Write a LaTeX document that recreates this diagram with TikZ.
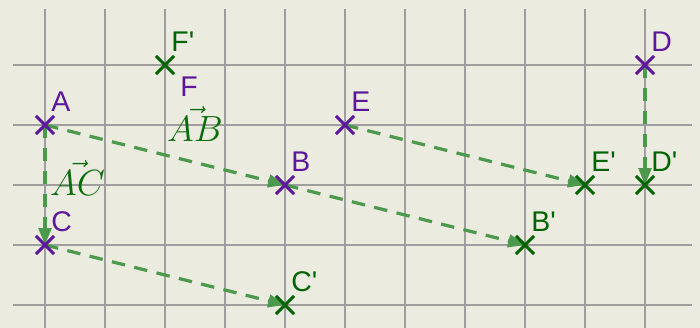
\documentclass[tikz,border=0pt]{standalone}
\usepackage{fontspec}
\setmainfont{Liberation Sans}
\usetikzlibrary{arrows.meta,shapes.misc}

\definecolor{bgcol}{RGB}{235,235,224}
\definecolor{gridcol}{RGB}{158,158,158}
\definecolor{ptpurple}{RGB}{94,22,156}
\definecolor{ptgreen}{RGB}{0,100,0}
\definecolor{vecgreen}{RGB}{76,152,76}

\begin{document}
\begin{tikzpicture}[
  gridline/.style={draw=gridcol,line width=0.9pt},
  ptmark/.style={cross out,draw,line width=1.5pt,minimum size=0.25cm,inner sep=0pt},
  ptlbl/.style={anchor=base west,inner sep=0pt,font=\fontsize{13.5}{16}\selectfont,xshift=0.1cm,yshift=0.22cm},
  veclbl/.style={anchor=base,inner sep=0pt,text=ptgreen!85!vecgreen,font=\fontsize{16}{18}\selectfont},
  vecarr/.style={draw=vecgreen,line width=1.5pt,dash pattern=on 6.4pt off 4.5pt,-{Triangle[length=8pt,width=6pt]}}
]
% ---- background and grid ----
\fill[bgcol] (-0.75,1.0833) rectangle (10.9167,-4.3833);
\useasboundingbox (-0.75,1.0833) rectangle (10.9167,-4.3833);
\foreach \i in {0,...,10}
  \draw[gridline] (\i,0.93) -- (\i,-4.3833);
\foreach \j in {0,...,4}
  \draw[gridline] (-0.533,-\j) -- (10.783,-\j);

% ---- points ----
\coordinate (A)  at (0,-1);
\coordinate (B)  at (4,-2);
\coordinate (C)  at (0,-3);
\coordinate (D)  at (10,0);
\coordinate (E)  at (5,-1);
\coordinate (F)  at (2,0);
\coordinate (B') at (8,-3);
\coordinate (C') at (4,-4);
\coordinate (D') at (10,-2);
\coordinate (E') at (9,-2);

% ---- translation vectors ----
\draw[vecarr] (A) -- (B);
\draw[vecarr] (A) -- (C);
\draw[vecarr] (B) -- (B');
\draw[vecarr] (C) -- (C');
\draw[vecarr] (E) -- (E');
\draw[vecarr] (D) -- (D');
\node[veclbl] (lAB) at (2.5,-1.283) {$\vec{AB}$};
\node[veclbl] (lAC) at (0.542,-2.183) {$\vec{AC}$};

% ---- marks ----
\node[ptmark,ptpurple] (mA) at (A) {};
\node[ptmark,ptpurple] (mB) at (B) {};
\node[ptmark,ptpurple] (mC) at (C) {};
\node[ptmark,ptpurple] (mD) at (D) {};
\node[ptmark,ptpurple] (mE) at (E) {};
\node[ptmark,ptgreen]  (mF) at (F) {};
\node[ptmark,ptgreen]  (mB') at (B') {};
\node[ptmark,ptgreen]  (mC') at (C') {};
\node[ptmark,ptgreen]  (mD') at (D') {};
\node[ptmark,ptgreen]  (mE') at (E') {};

% ---- labels ----
\node[ptlbl,text=ptpurple] (lA) at (A) {A};
\node[ptlbl,text=ptpurple] (lB) at (B) {B};
\node[ptlbl,text=ptpurple] (lC) at (C) {C};
\node[ptlbl,text=ptpurple] (lD) at (D) {D};
\node[ptlbl,text=ptpurple] (lE) at (E) {E};
\node[ptlbl,text=ptpurple,xshift=0.15cm,yshift=-0.753cm] (lF) at (F) {F};
\node[ptlbl,text=ptgreen] (lF') at (F) {F\textquotesingle};
\node[ptlbl,text=ptgreen] (lB') at (B') {B\textquotesingle};
\node[ptlbl,text=ptgreen] (lC') at (C') {C\textquotesingle};
\node[ptlbl,text=ptgreen] (lD') at (D') {D\textquotesingle};
\node[ptlbl,text=ptgreen] (lE') at (E') {E\textquotesingle};
\end{tikzpicture}
\end{document}
